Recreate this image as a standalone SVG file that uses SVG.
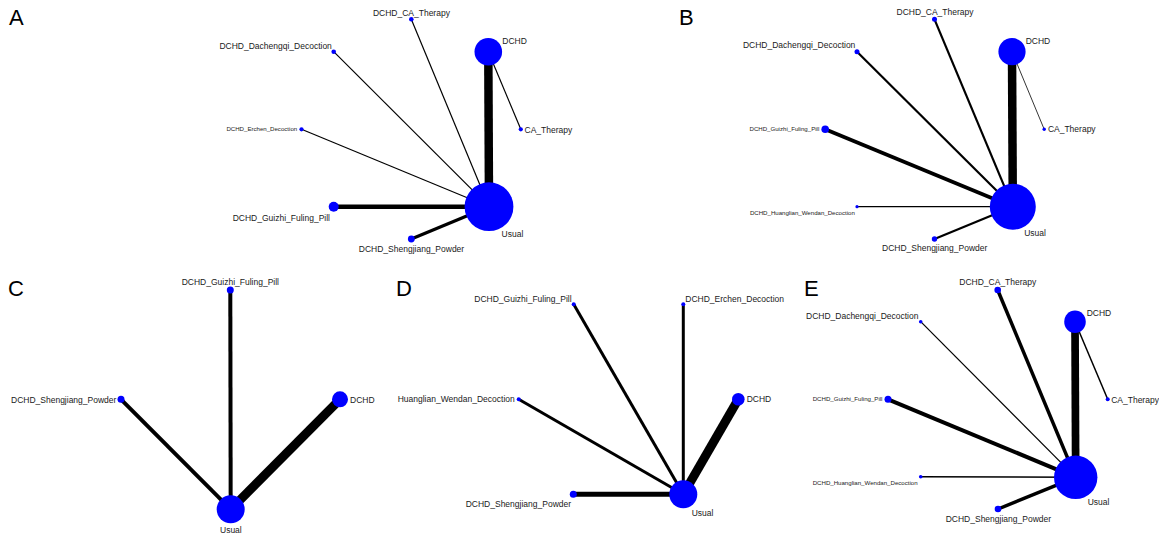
<svg xmlns="http://www.w3.org/2000/svg" width="1159" height="536" viewBox="0 0 1159 536">
<style>
.bg{fill:#ffffff}
.panel{font-family:"Liberation Sans",Arial,sans-serif;font-size:22px;fill:#000}
.lbl{font-family:"Liberation Sans",Arial,sans-serif;fill:#1a1a1a}
.s61{font-size:6.1px}
.s85{font-size:8.5px}
.node{fill:#0000ff}
.edge{stroke:#000;stroke-linecap:butt;fill:none}
</style>
<rect class="bg" x="0" y="0" width="1159" height="536"/>

<!-- Panel A -->
<g id="panelA">
<text class="panel" x="9" y="25">A</text>
<g id="A-connectors">
<line class="edge" x1="488.3" y1="51.7" x2="489" y2="206.7" stroke-width="8.5"/>
<line class="edge" x1="488.3" y1="51.7" x2="520.8" y2="129.3" stroke-width="1.2"/>
<line class="edge" x1="411.3" y1="19.3" x2="489" y2="206.7" stroke-width="1.2"/>
<line class="edge" x1="333.7" y1="51.7" x2="489" y2="206.7" stroke-width="1.2"/>
<line class="edge" x1="301.5" y1="129.3" x2="489" y2="206.7" stroke-width="1.2"/>
<line class="edge" x1="333.7" y1="206.7" x2="489" y2="206.7" stroke-width="4.5"/>
<line class="edge" x1="411.3" y1="239" x2="489" y2="206.7" stroke-width="3.2"/>
</g>
<g id="A-DCHD"><circle class="node" cx="488.3" cy="51.7" r="13.8"/><text class="lbl s85" x="502.3" y="44.3">DCHD</text></g>
<g id="A-Usual"><circle class="node" cx="489" cy="206.7" r="24.4"/><text class="lbl s85" x="501.6" y="237.3">Usual</text></g>
<g id="A-CA_Therapy"><circle class="node" cx="520.8" cy="129.3" r="2.1"/><text class="lbl s85" x="524.5" y="132.7">CA_Therapy</text></g>
<g id="A-DCHD_CA_Therapy"><circle class="node" cx="411.3" cy="19.3" r="2.3"/><text class="lbl s85" x="372.9" y="15.7">DCHD_CA_Therapy</text></g>
<g id="A-DCHD_Dachengqi_Decoction"><circle class="node" cx="333.7" cy="51.7" r="2.3"/><text class="lbl s85" x="219.4" y="48.7">DCHD_Dachengqi_Decoction</text></g>
<g id="A-DCHD_Erchen_Decoction"><circle class="node" cx="301.5" cy="129.3" r="2.1"/><text class="lbl s61" x="226.4" y="131">DCHD_Erchen_Decoction</text></g>
<g id="A-DCHD_Guizhi_Fuling_Pill"><circle class="node" cx="333.7" cy="206.7" r="5"/><text class="lbl s85" x="232.7" y="221">DCHD_Guizhi_Fuling_Pill</text></g>
<g id="A-DCHD_Shengjiang_Powder"><circle class="node" cx="411.3" cy="239" r="3.4"/><text class="lbl s85" x="358.8" y="251.7">DCHD_Shengjiang_Powder</text></g>
</g>

<!-- Panel B -->
<g id="panelB">
<text class="panel" x="679" y="25">B</text>
<g id="B-connectors">
<line class="edge" x1="1012" y1="51.7" x2="1012.8" y2="206.7" stroke-width="8.5"/>
<line class="edge" x1="1012" y1="51.7" x2="1044.2" y2="129.3" stroke-width="0.8"/>
<line class="edge" x1="934.5" y1="19.3" x2="1012.8" y2="206.7" stroke-width="2.2"/>
<line class="edge" x1="857" y1="51.7" x2="1012.8" y2="206.7" stroke-width="2.2"/>
<line class="edge" x1="825.2" y1="129.3" x2="1012.8" y2="206.7" stroke-width="3.8"/>
<line class="edge" x1="857" y1="206.7" x2="1012.8" y2="206.7" stroke-width="1.2" stroke="#666"/>
<line class="edge" x1="934.5" y1="239" x2="1012.8" y2="206.7" stroke-width="2.2"/>
</g>
<g id="B-DCHD"><circle class="node" cx="1012" cy="51.7" r="13.6"/><text class="lbl s85" x="1025.7" y="44.3">DCHD</text></g>
<g id="B-Usual"><circle class="node" cx="1012.8" cy="206.7" r="23"/><text class="lbl s85" x="1024.2" y="235.7">Usual</text></g>
<g id="B-CA_Therapy"><circle class="node" cx="1044.2" cy="129.3" r="1.7"/><text class="lbl s85" x="1047.9" y="132.3">CA_Therapy</text></g>
<g id="B-DCHD_CA_Therapy"><circle class="node" cx="934.5" cy="19.3" r="2.5"/><text class="lbl s85" x="896.5" y="15">DCHD_CA_Therapy</text></g>
<g id="B-DCHD_Dachengqi_Decoction"><circle class="node" cx="857" cy="51.7" r="2.5"/><text class="lbl s85" x="742.9" y="48">DCHD_Dachengqi_Decoction</text></g>
<g id="B-DCHD_Guizhi_Fuling_Pill"><circle class="node" cx="825.2" cy="129.3" r="3.8"/><text class="lbl s61" x="749.5" y="131">DCHD_Guizhi_Fuling_Pill</text></g>
<g id="B-DCHD_Huanglian_Wendan_Decoction"><circle class="node" cx="857" cy="206.7" r="1.6"/><text class="lbl s61" x="749.9" y="215">DCHD_Huanglian_Wendan_Decoction</text></g>
<g id="B-DCHD_Shengjiang_Powder"><circle class="node" cx="934.5" cy="239" r="2.7"/><text class="lbl s85" x="882" y="250.7">DCHD_Shengjiang_Powder</text></g>
</g>

<!-- Panel C -->
<g id="panelC">
<text class="panel" x="8" y="296">C</text>
<g id="C-connectors">
<line class="edge" x1="230.3" y1="290" x2="230.7" y2="509.3" stroke-width="4"/>
<line class="edge" x1="121" y1="399.3" x2="230.7" y2="509.3" stroke-width="4"/>
<line class="edge" x1="340" y1="399.3" x2="230.7" y2="509.3" stroke-width="9"/>
</g>
<g id="C-DCHD_Guizhi_Fuling_Pill"><circle class="node" cx="230.3" cy="290" r="3.5"/><text class="lbl s85" x="181.7" y="285">DCHD_Guizhi_Fuling_Pill</text></g>
<g id="C-DCHD_Shengjiang_Powder"><circle class="node" cx="121" cy="399.3" r="3.5"/><text class="lbl s85" x="11" y="402.7">DCHD_Shengjiang_Powder</text></g>
<g id="C-DCHD"><circle class="node" cx="340" cy="399.3" r="8"/><text class="lbl s85" x="350" y="402.7">DCHD</text></g>
<g id="C-Usual"><circle class="node" cx="230.7" cy="509.3" r="14"/><text class="lbl s85" x="220" y="533.3">Usual</text></g>
</g>

<!-- Panel D -->
<g id="panelD">
<text class="panel" x="396" y="296">D</text>
<g id="D-connectors">
<line class="edge" x1="573.7" y1="304.3" x2="683.3" y2="494.3" stroke-width="3"/>
<line class="edge" x1="683.3" y1="304.3" x2="683.3" y2="494.3" stroke-width="3"/>
<line class="edge" x1="518.7" y1="399.3" x2="683.3" y2="494.3" stroke-width="3"/>
<line class="edge" x1="738.3" y1="399.3" x2="683.3" y2="494.3" stroke-width="9"/>
<line class="edge" x1="573.3" y1="494.3" x2="683.3" y2="494.3" stroke-width="5"/>
</g>
<g id="D-DCHD_Guizhi_Fuling_Pill"><circle class="node" cx="573.7" cy="304.3" r="2"/><text class="lbl s85" x="474.3" y="302.3">DCHD_Guizhi_Fuling_Pill</text></g>
<g id="D-DCHD_Erchen_Decoction"><circle class="node" cx="683.3" cy="304.3" r="2"/><text class="lbl s85" x="685.3" y="302.3">DCHD_Erchen_Decoction</text></g>
<g id="D-Huanglian_Wendan_Decoction"><circle class="node" cx="518.7" cy="399.3" r="2"/><text class="lbl s85" x="397.7" y="402.3">Huanglian_Wendan_Decoction</text></g>
<g id="D-DCHD"><circle class="node" cx="738.3" cy="399.3" r="6.3"/><text class="lbl s85" x="746.7" y="402.3">DCHD</text></g>
<g id="D-DCHD_Shengjiang_Powder"><circle class="node" cx="573.3" cy="494.3" r="3.5"/><text class="lbl s85" x="465.7" y="506.7">DCHD_Shengjiang_Powder</text></g>
<g id="D-Usual"><circle class="node" cx="683.3" cy="494.3" r="14"/><text class="lbl s85" x="691.7" y="516">Usual</text></g>
</g>

<!-- Panel E -->
<g id="panelE">
<text class="panel" x="804" y="296">E</text>
<g id="E-connectors">
<line class="edge" x1="1075" y1="321.7" x2="1075.7" y2="477.3" stroke-width="7.7"/>
<line class="edge" x1="1075" y1="321.7" x2="1107.7" y2="399.3" stroke-width="1.5"/>
<line class="edge" x1="997.7" y1="290" x2="1075.7" y2="477.3" stroke-width="3.5"/>
<line class="edge" x1="920.7" y1="321.7" x2="1075.7" y2="477.3" stroke-width="1.2"/>
<line class="edge" x1="888" y1="399.3" x2="1075.7" y2="477.3" stroke-width="4"/>
<line class="edge" x1="920.7" y1="476.7" x2="1075.7" y2="477.3" stroke-width="1.5"/>
<line class="edge" x1="998" y1="509" x2="1075.7" y2="477.3" stroke-width="3.5"/>
</g>
<g id="E-DCHD_CA_Therapy"><circle class="node" cx="997.7" cy="290" r="3.3"/><text class="lbl s85" x="959.3" y="285.3">DCHD_CA_Therapy</text></g>
<g id="E-DCHD_Dachengqi_Decoction"><circle class="node" cx="920.7" cy="321.7" r="1.8"/><text class="lbl s85" x="806" y="318.7">DCHD_Dachengqi_Decoction</text></g>
<g id="E-DCHD"><ellipse class="node" cx="1075" cy="321.7" rx="10.8" ry="11.3"/><text class="lbl s85" x="1086.7" y="315.7">DCHD</text></g>
<g id="E-CA_Therapy"><circle class="node" cx="1107.7" cy="399.3" r="2"/><text class="lbl s85" x="1111.2" y="402.7">CA_Therapy</text></g>
<g id="E-DCHD_Guizhi_Fuling_Pill"><circle class="node" cx="888" cy="399.3" r="3.5"/><text class="lbl s61" x="812.7" y="401">DCHD_Guizhi_Fuling_Pill</text></g>
<g id="E-DCHD_Huanglian_Wendan_Decoction"><circle class="node" cx="920.7" cy="476.7" r="1.8"/><text class="lbl s61" x="812.7" y="485">DCHD_Huanglian_Wendan_Decoction</text></g>
<g id="E-Usual"><ellipse class="node" cx="1075.7" cy="477.3" rx="21.7" ry="21.8"/><text class="lbl s85" x="1087.7" y="505">Usual</text></g>
<g id="E-DCHD_Shengjiang_Powder"><circle class="node" cx="998" cy="509" r="3.3"/><text class="lbl s85" x="945.7" y="521.7">DCHD_Shengjiang_Powder</text></g>
</g>
</svg>
